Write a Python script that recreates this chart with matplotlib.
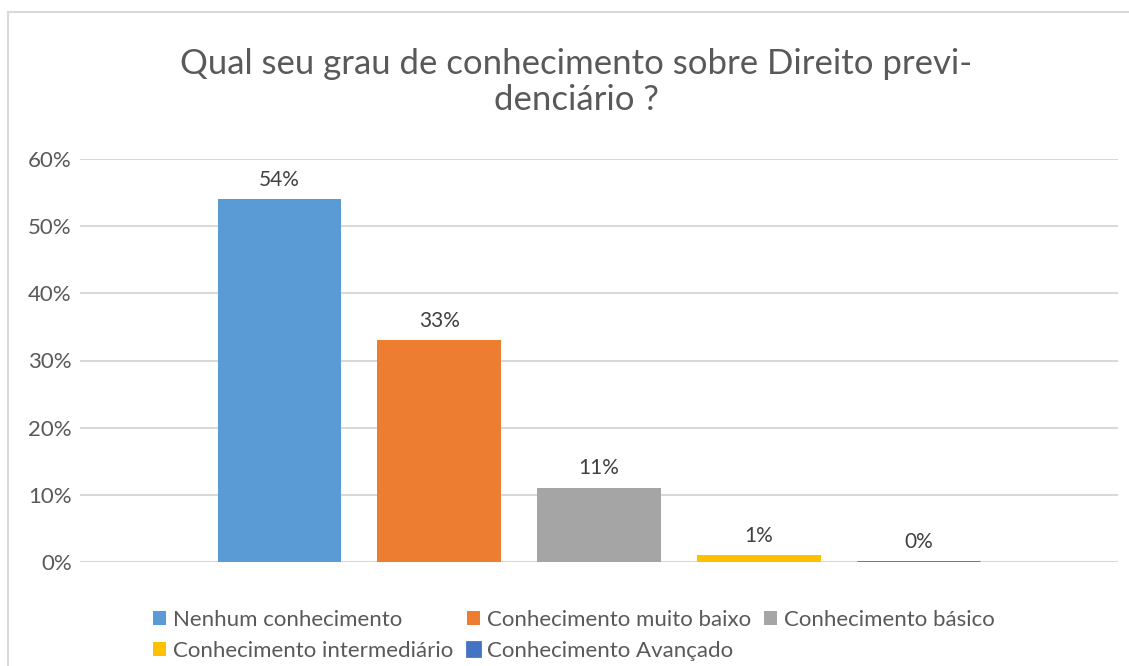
import numpy as np
import matplotlib.pyplot as plt
from matplotlib.patches import Rectangle

# data
categories = ['Nenhum conhecimento', 'Conhecimento muito baixo', 'Conhecimento básico',
              'Conhecimento intermediário', 'Conhecimento Avançado']
values = [54, 33, 11, 1, 0]
labels = ['54%', '33%', '11%', '1%', '0%']
colors = ['#5B9BD5', '#ED7D31', '#A5A5A5', '#FFC000', '#4472C4']
yticks = [0, 10, 20, 30, 40, 50, 60]

plt.rcParams['font.family'] = ['Lato', 'DejaVu Sans']
text_color = '#595959'

fig = plt.figure(figsize=(11.29, 6.66), dpi=100)
fig.patch.set_facecolor('white')

# chart frame
fig.patches.append(Rectangle((8 / 1129, -0.05), 1.2, 1 - 12 / 666 + 0.05,
                             transform=fig.transFigure, fill=False,
                             edgecolor='#d9d9d9', linewidth=1.5))

ax = fig.add_axes([80 / 1129, 1 - 562 / 666, (1118 - 80) / 1129, (562 - 159) / 666])
x = np.arange(len(values))
bars = ax.bar(x, values, width=0.775, color=colors, zorder=3)
# zero-height bar still shows as a thin line in the original
bars[-1].set_edgecolor(colors[-1])
bars[-1].set_linewidth(2)

for xi, v, lab in zip(x, values, labels):
    ax.annotate(lab, (xi, v), xytext=(0, 7), textcoords='offset points',
                ha='center', va='bottom', fontsize=15, color='#404040')

ax.set_xlim(-1.25, 5.25)
ax.set_ylim(0, 60)
ax.set_yticks(yticks)
ax.set_yticklabels([f'{t}%' for t in yticks])
ax.set_xticks([])
ax.tick_params(axis='y', length=0, pad=6, labelsize=16, labelcolor=text_color)
ax.grid(axis='y', color='#d9d9d9', linewidth=1.5, zorder=0)
for s in ax.spines.values():
    s.set_visible(False)

fig.text(576 / 1129, 1 - 82 / 666,
         'Qual seu grau de conhecimento sobre Direito previ-\ndenciário ?',
         ha='center', va='center', fontsize=25, color=text_color,
         linespacing=1.12)

# legend is filled column by column, so reorder to get row order
order = [0, 3, 1, 4, 2]
handles = [bars[i] for i in order]
leg = fig.legend(handles, [categories[i] for i in order], ncol=3,
                 loc='upper left', bbox_to_anchor=(142 / 1129, 1 - 599 / 666),
                 frameon=False, fontsize=16, handlelength=0.6, handleheight=0.6,
                 handletextpad=0.3, columnspacing=0.6, labelspacing=0.5,
                 borderpad=0)
for t in leg.get_texts():
    t.set_color(text_color)

fig.savefig('out.png', dpi=100, facecolor='white')
